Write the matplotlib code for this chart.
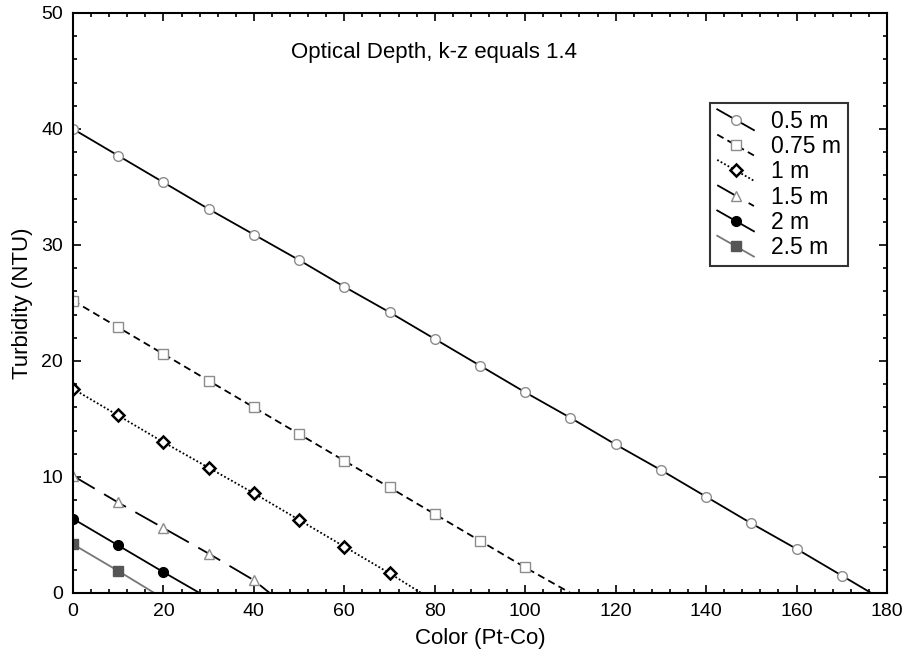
import matplotlib
matplotlib.use("Agg")
import matplotlib.pyplot as plt
import numpy as np
from matplotlib.legend_handler import HandlerLine2D
from matplotlib.lines import Line2D
from matplotlib.ticker import MultipleLocator

plt.rcParams['font.family'] = ['Liberation Sans', 'DejaVu Sans']

# marker positions (Color Pt-Co -> Turbidity NTU)
x_marks = [0, 10, 20, 30, 40, 50, 60, 70, 80, 90, 100, 110, 120, 130, 140, 150, 160, 170]
y_05 = [40.0, 37.7, 35.4, 33.1, 30.9, 28.7, 26.4, 24.2, 21.9, 19.6, 17.3, 15.1, 12.8, 10.6, 8.3, 6.0, 3.8, 1.5]
y_075 = [25.2, 22.9, 20.6, 18.3, 16.0, 13.7, 11.4, 9.1, 6.8, 4.5, 2.2]
y_1 = [17.6, 15.3, 13.0, 10.8, 8.6, 6.3, 4.0, 1.7]
y_15 = [10.1, 7.8, 5.6, 3.4, 1.1]
y_2 = [6.4, 4.1, 1.8]
y_25 = [4.2, 1.9]

# where each line reaches zero turbidity
x_zero = {'0.5 m': 176.5, '0.75 m': 110.0, '1 m': 77.0, '1.5 m': 43.5, '2 m': 28.0, '2.5 m': 18.0}

series = [
    ('0.5 m', y_05, dict(color='black', ls='-', marker='o', mfc='white', mec='#8c8c8c', ms=7)),
    ('0.75 m', y_075, dict(color='black', ls=(0, (4, 2.5)), marker='s', mfc='white', mec='#8c8c8c', ms=6.5)),
    ('1 m', y_1, dict(color='black', ls=(0, (1, 1.2)), marker='D', mfc='white', mec='black', ms=6, mew=1.8)),
    ('1.5 m', y_15, dict(color='black', ls=(0, (14, 6)), marker='^', mfc='white', mec='#8c8c8c', ms=7)),
    ('2 m', y_2, dict(color='black', ls='-', marker='o', mfc='black', mec='black', ms=7)),
    ('2.5 m', y_25, dict(color='#777777', ls='-', marker='s', mfc='#555555', mec='#555555', ms=6.5)),
]


class DiagonalHandler(HandlerLine2D):
    """Legend entry as a sloping line with a marker in the middle"""
    def create_artists(self, legend, orig_handle, xdescent, ydescent,
                       width, height, fontsize, trans):
        x0, x1 = -xdescent, -xdescent + width
        y0, y1 = -ydescent + height * 1.15, -ydescent - height * 0.15
        line = Line2D([x0, x1], [y0, y1])
        self.update_prop(line, orig_handle, legend)
        line.set_marker('None')
        mark = Line2D([(x0 + x1) / 2], [(y0 + y1) / 2])
        self.update_prop(mark, orig_handle, legend)
        mark.set_linestyle('None')
        line.set_transform(trans)
        mark.set_transform(trans)
        return [line, mark]


fig = plt.figure(figsize=(9.12, 6.65), dpi=100)
ax = fig.add_axes([0.080, 0.1083, 0.8926, 0.8722])

handles = []
for label, ys, style in series:
    xs = x_marks[:len(ys)]
    mark_style = {k: v for k, v in style.items() if k not in ('ls', 'color')}
    ax.plot(xs + [x_zero[label]], ys + [0.0], color=style['color'], ls=style['ls'], lw=1.3)
    ax.plot(xs, ys, ls='None', **mark_style)
    handles.append(Line2D([], [], color=style['color'], ls=style['ls'], lw=1.3, **mark_style))

ax.set_xlim(0, 180)
ax.set_ylim(0, 50)
ax.xaxis.set_major_locator(MultipleLocator(20))
ax.xaxis.set_minor_locator(MultipleLocator(4))
ax.yaxis.set_major_locator(MultipleLocator(10))
ax.yaxis.set_minor_locator(MultipleLocator(2))
ax.tick_params(which='both', direction='in', top=True, right=True, labelsize=14, width=1.2)
ax.tick_params(which='major', length=6, pad=7)
ax.tick_params(which='minor', length=3)
for sp in ax.spines.values():
    sp.set_linewidth(1.5)

ax.set_xlabel('Color (Pt-Co)', fontsize=16, labelpad=6)
ax.set_ylabel('Turbidity (NTU)', fontsize=16, labelpad=6)
ax.text(0.4435, 0.931, 'Optical Depth, k-z equals 1.4', transform=ax.transAxes,
        ha='center', va='center', fontsize=16)

leg = ax.legend(handles, [s[0] for s in series], loc='upper left',
                bbox_to_anchor=(0.783, 0.845), fontsize=16.5, frameon=True,
                fancybox=False, handlelength=1.6, handletextpad=0.75,
                labelspacing=0.1, borderpad=0.3, borderaxespad=0,
                handler_map={Line2D: DiagonalHandler()})
leg.get_frame().set_edgecolor('black')
leg.get_frame().set_linewidth(1.5)

fig.savefig('out.png', dpi=100)
